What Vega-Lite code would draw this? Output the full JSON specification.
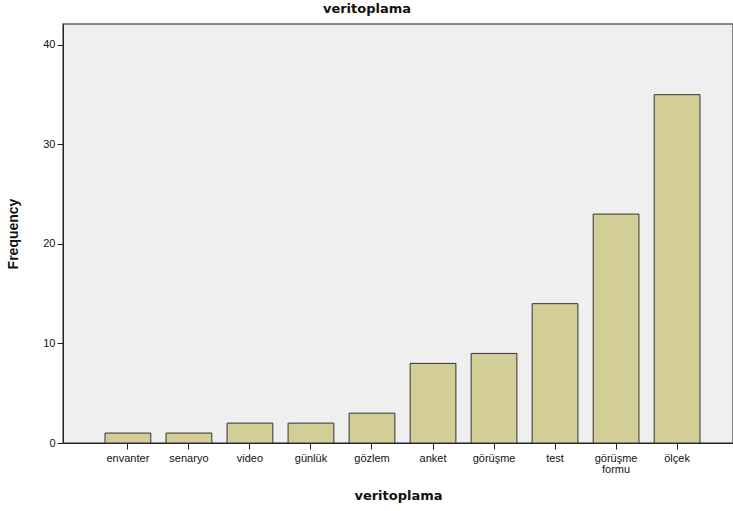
{
  "$schema": "https://vega.github.io/schema/vega-lite/v6.json",
  "width": 670,
  "height": 419,
  "autosize": {"type": "none"},
  "padding": {"left": 63, "top": 24, "right": 0, "bottom": 68},
  "background": "white",
  "title": {
    "text": "veritoplama",
    "font": "DejaVu Sans",
    "fontSize": 13,
    "fontWeight": "bold",
    "color": "#111",
    "anchor": "middle",
    "dx": -31,
    "offset": 8
  },
  "data": {
    "values": [
      {"veritoplama": "envanter", "Frequency": 1},
      {"veritoplama": "senaryo", "Frequency": 1},
      {"veritoplama": "video", "Frequency": 2},
      {"veritoplama": "günlük", "Frequency": 2},
      {"veritoplama": "gözlem", "Frequency": 3},
      {"veritoplama": "anket", "Frequency": 8},
      {"veritoplama": "görüşme", "Frequency": 9},
      {"veritoplama": "test", "Frequency": 14},
      {"veritoplama": "görüşme formu", "Frequency": 23},
      {"veritoplama": "ölçek", "Frequency": 35}
    ]
  },
  "config": {
    "view": {"fill": "#efefef", "stroke": "#666", "strokeWidth": 1.5},
    "axis": {
      "labelFont": "Liberation Sans",
      "labelFontSize": 11,
      "labelColor": "#111",
      "titleFont": "DejaVu Sans",
      "titleFontSize": 13,
      "titleFontWeight": "bold",
      "titleColor": "#111",
      "domainColor": "#222",
      "tickColor": "#222",
      "tickSize": 6,
      "grid": false
    }
  },
  "mark": {"type": "bar", "fill": "#d3ce97", "stroke": "#333", "strokeWidth": 1},
  "encoding": {
    "x": {
      "field": "veritoplama",
      "type": "nominal",
      "sort": null,
      "scale": {"paddingInner": 0.25, "paddingOuter": 0.615, "align": 0.56},
      "axis": {
        "labelAngle": 0,
        "labelExpr": "datum.value == 'görüşme formu' ? ['görüşme', 'formu'] : datum.value",
        "labelLineHeight": 11,
        "labelPadding": 3,
        "title": "veritoplama",
        "titlePadding": 15
      }
    },
    "y": {
      "field": "Frequency",
      "type": "quantitative",
      "scale": {"domain": [0, 42.1], "nice": false},
      "axis": {
        "values": [0, 10, 20, 30, 40],
        "title": "Frequency",
        "titleFont": "Liberation Sans",
        "titleFontSize": 14,
        "labelPadding": 2,
        "titlePadding": 22
      }
    }
  }
}
